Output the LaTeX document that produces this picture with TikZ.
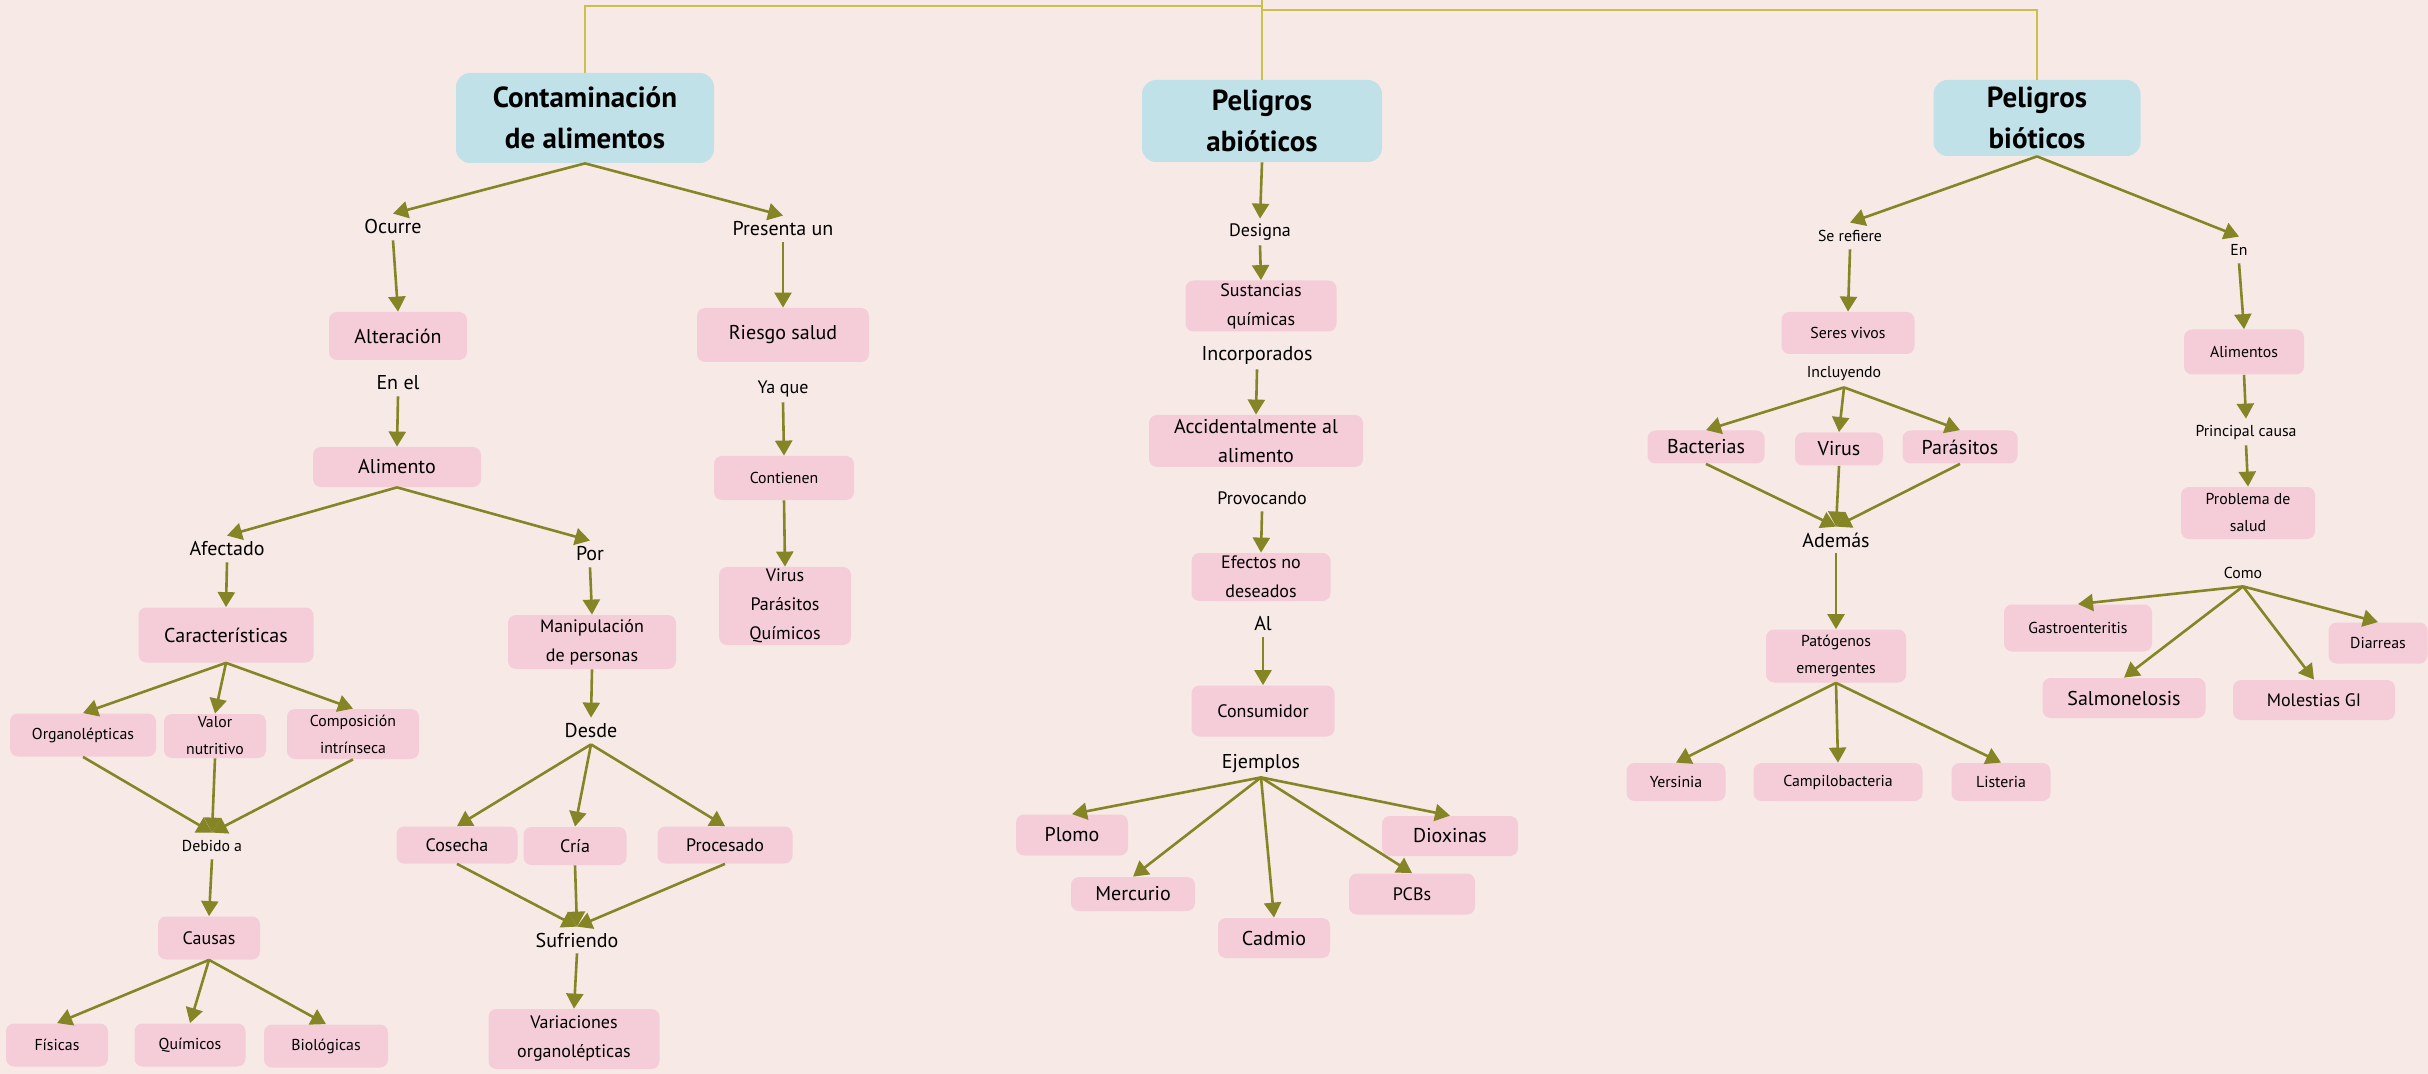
\documentclass[tikz,border=0pt]{standalone}
\usepackage{fontspec}
\setmainfont{PT Sans}
\usetikzlibrary{arrows.meta}
\definecolor{bgc}{HTML}{F7E9E6}
\definecolor{pinkc}{HTML}{F4CDD9}
\definecolor{bluec}{HTML}{C1E1E8}
\definecolor{arrc}{HTML}{858526}
\definecolor{topc}{HTML}{C8C24B}
\begin{document}
\begin{tikzpicture}[x=0.5pt,y=-0.5pt,
  pbox/.style={fill=pinkc, rounded corners=4pt, align=center, inner sep=1pt},
  tbox/.style={fill=bluec, rounded corners=7pt, align=center, inner sep=1pt,
    font=\fontsize{14.5}{20.5}\selectfont\bfseries},
  lbl/.style={align=center, inner sep=0pt, minimum height=13pt},
  sz/.style 2 args={minimum width=#1*0.5pt, minimum height=#2*0.5pt},
  fL/.style={font=\fontsize{10}{14.5}\selectfont},
  fM/.style={font=\fontsize{9}{14.5}\selectfont},
  fS/.style={font=\fontsize{7.9}{13.5}\selectfont},
  arr/.style={draw=arrc, line width=1.3pt, -{Triangle[length=7.5pt,width=8.5pt]}},
  topline/.style={draw=topc, line width=0.75pt}]
\fill[bgc] (0,0) rectangle (2428,1074);
\useasboundingbox (0,0) rectangle (2428,1074);

% title boxes
\node[tbox, sz={258}{90}] (t1) at (585,118) {Contaminación\\de alimentos};
\node[tbox, sz={240}{82}] (t2) at (1262,121) {Peligros\\abióticos};
\node[tbox, sz={207}{76}] (t3) at (2037,118) {Peligros\\bióticos};

% top connectors
\coordinate (hub) at (1262,0);
\coordinate (j1) at (1262,6);
\coordinate (j2) at (1262,10);
\draw[topline] (t1.north) |- (j1);
\draw[topline] (hub) -- (t2.north);
\draw[topline] (j2) -| (t3.north);

% ---------- left branch ----------
\node[lbl, fL] (ocurre) at (393,227) {Ocurre};
\node[lbl, fL] (presenta) at (783,229) {Presenta un};
\node[pbox, fL, sz={138}{48}] (alter) at (398,336) {Alteración};
\node[pbox, fL, sz={172}{54}] (riesgo) at (783,335) {Riesgo salud};
\node[lbl, fL] (enel) at (398,383) {En el};
\node[lbl, fM] (yaque) at (783,389) {Ya que};
\node[pbox, fL, sz={168}{40}] (alim) at (397,467) {Alimento};
\node[pbox, fS, sz={140}{44}] (conti) at (784,478) {Contienen};
\node[pbox, fM, sz={132}{75}] (vpq) at (785,606) {Virus\\Parásitos\\Químicos};
\node[lbl, fL] (afectado) at (227,549) {Afectado};
\node[lbl, fL] (por) at (590,554) {Por};
\node[pbox, fL, sz={175}{55}] (carac) at (226,635) {Características};
\node[pbox, fM, sz={168}{54}] (manip) at (592,642) {Manipulación\\de personas};
\node[pbox, fS, sz={146}{43}] (organo) at (83,735) {Organolépticas};
\node[pbox, fS, sz={102}{44}] (valor) at (215,736) {Valor\\nutritivo};
\node[pbox, fS, sz={132}{50}] (compo) at (353,734) {Composición\\intrínseca};
\node[lbl, fS] (debido) at (212,846) {Debido a};
\node[pbox, fM, sz={102}{43}] (causas) at (209,938) {Causas};
\node[pbox, fS, sz={102}{43}] (fisicas) at (57,1045) {Físicas};
\node[pbox, fS, sz={111}{43}] (quimicos) at (190,1045) {Químicos};
\node[pbox, fS, sz={124}{43}] (bio) at (326,1046) {Biológicas};
\node[lbl, fL] (desde) at (591,731) {Desde};
\node[pbox, fM, sz={121}{37}] (cosecha) at (457,845) {Cosecha};
\node[pbox, fM, sz={103}{38}] (cria) at (575,846) {Cría};
\node[pbox, fM, sz={135}{37}] (proc) at (725,845) {Procesado};
\node[lbl, fL] (sufriendo) at (577,940) {Sufriendo};
\node[pbox, fM, sz={171}{60}] (varia) at (574,1039) {Variaciones\\organolépticas};

\draw[arr] (t1.south) -- (ocurre.north);
\draw[arr] (t1.south) -- (presenta.north);
\draw[arr] (ocurre.south) -- (alter.north);
\draw[arr] (presenta.south) -- (riesgo.north);
\draw[arr] (enel.south) -- (alim.north);
\draw[arr] (yaque.south) -- (conti.north);
\draw[arr] (conti.south) -- (vpq.north);
\draw[arr] (alim.south) -- (afectado.north);
\draw[arr] (alim.south) -- (por.north);
\draw[arr] (afectado.south) -- (carac.north);
\draw[arr] (por.south) -- (manip.north);
\draw[arr] (carac.south) -- (organo.north);
\draw[arr] (carac.south) -- (valor.north);
\draw[arr] (carac.south) -- (compo.north);
\draw[arr] (organo.south) -- (debido.north);
\draw[arr] (valor.south) -- (debido.north);
\draw[arr] (compo.south) -- (debido.north);
\draw[arr] (debido.south) -- (causas.north);
\draw[arr] (causas.south) -- (fisicas.north);
\draw[arr] (causas.south) -- (quimicos.north);
\draw[arr] (causas.south) -- (bio.north);
\draw[arr] (manip.south) -- (desde.north);
\draw[arr] (desde.south) -- (cosecha.north);
\draw[arr] (desde.south) -- (cria.north);
\draw[arr] (desde.south) -- (proc.north);
\draw[arr] (cosecha.south) -- (sufriendo.north);
\draw[arr] (cria.south) -- (sufriendo.north);
\draw[arr] (proc.south) -- (sufriendo.north);
\draw[arr] (sufriendo.south) -- (varia.north);

% ---------- middle branch ----------
\node[lbl, fM] (designa) at (1260,232) {Designa};
\node[pbox, fM, sz={151}{51}] (sust) at (1261,306) {Sustancias\\químicas};
\node[lbl, fL] (incorp) at (1257,356) {Incorporados};
\node[pbox, fL, sz={214}{52}] (accid) at (1256,441) {Accidentalmente al\\alimento};
\node[lbl, fM] (provoc) at (1262,498) {Provocando};
\node[pbox, fM, sz={139}{48}] (efectos) at (1261,577) {Efectos no\\deseados};
\node[lbl, fL] (al) at (1263,624) {Al};
\node[pbox, fM, sz={143}{51}] (consum) at (1263,711) {Consumidor};
\node[lbl, fL] (ejemplos) at (1261,764) {Ejemplos};
\node[pbox, fL, sz={112}{41}] (plomo) at (1072,835) {Plomo};
\node[pbox, fL, sz={124}{34}] (mercurio) at (1133,894) {Mercurio};
\node[pbox, fL, sz={112}{40}] (cadmio) at (1274,938) {Cadmio};
\node[pbox, fM, sz={126}{41}] (pcbs) at (1412,894) {PCBs};
\node[pbox, fL, sz={136}{40}] (dioxinas) at (1450,836) {Dioxinas};

\draw[arr] (t2.south) -- (designa.north);
\draw[arr] (designa.south) -- (sust.north);
\draw[arr] (incorp.south) -- (accid.north);
\draw[arr] (provoc.south) -- (efectos.north);
\draw[arr] (al.south) -- (consum.north);
\draw[arr] (ejemplos.south) -- (plomo.north);
\draw[arr] (ejemplos.south) -- (mercurio.north);
\draw[arr] (ejemplos.south) -- (cadmio.north);
\draw[arr] (ejemplos.south) -- (pcbs.north);
\draw[arr] (ejemplos.south) -- (dioxinas.north);

% ---------- right branch ----------
\node[lbl, fS] (serefiere) at (1850,236) {Se refiere};
\node[lbl, fS] (en) at (2239,250) {En};
\node[pbox, fS, sz={133}{42}] (seres) at (1848,333) {Seres vivos};
\node[lbl, fS] (incluyendo) at (1844,374) {Incluyendo};
\node[pbox, fL, sz={117}{33}] (bact) at (1706,447) {Bacterias};
\node[pbox, fL, sz={88}{33}] (virus) at (1839,449) {Virus};
\node[pbox, fL, sz={115}{33}] (paras) at (1960,447) {Parásitos};
\node[lbl, fL] (ademas) at (1836,540) {Además};
\node[pbox, fS, sz={140}{53}] (patog) at (1836,656) {Patógenos\\emergentes};
\node[pbox, fS, sz={99}{38}] (yers) at (1676,782) {Yersinia};
\node[pbox, fS, sz={169}{38}] (campi) at (1838,782) {Campilobacteria};
\node[pbox, fS, sz={99}{38}] (liste) at (2001,782) {Listeria};
\node[pbox, fS, sz={120}{45}] (alimentos) at (2244,352) {Alimentos};
\node[lbl, fS] (principal) at (2246,432) {Principal causa};
\node[pbox, fS, sz={134}{52}] (problema) at (2248,513) {Problema de\\salud};
\node[lbl, fS] (como) at (2243,573) {Como};
\node[pbox, fS, sz={148}{47}] (gastro) at (2078,628) {Gastroenteritis};
\node[pbox, fL, sz={163}{40}] (salmo) at (2124,698) {Salmonelosis};
\node[pbox, fM, sz={162}{40}] (moles) at (2314,700) {Molestias GI};
\node[pbox, fS, sz={99}{41}] (diarr) at (2378,643) {Diarreas};

\draw[arr] (t3.south) -- (serefiere.north);
\draw[arr] (t3.south) -- (en.north);
\draw[arr] (serefiere.south) -- (seres.north);
\draw[arr] (incluyendo.south) -- (bact.north);
\draw[arr] (incluyendo.south) -- (virus.north);
\draw[arr] (incluyendo.south) -- (paras.north);
\draw[arr] (bact.south) -- (ademas.north);
\draw[arr] (virus.south) -- (ademas.north);
\draw[arr] (paras.south) -- (ademas.north);
\draw[arr] (ademas.south) -- (patog.north);
\draw[arr] (patog.south) -- (yers.north);
\draw[arr] (patog.south) -- (campi.north);
\draw[arr] (patog.south) -- (liste.north);
\draw[arr] (en.south) -- (alimentos.north);
\draw[arr] (alimentos.south) -- (principal.north);
\draw[arr] (principal.south) -- (problema.north);
\draw[arr] (como.south) -- (gastro.north);
\draw[arr] (como.south) -- (salmo.north);
\draw[arr] (como.south) -- (moles.north);
\draw[arr] (como.south) -- (diarr.north);
\end{tikzpicture}
\end{document}
